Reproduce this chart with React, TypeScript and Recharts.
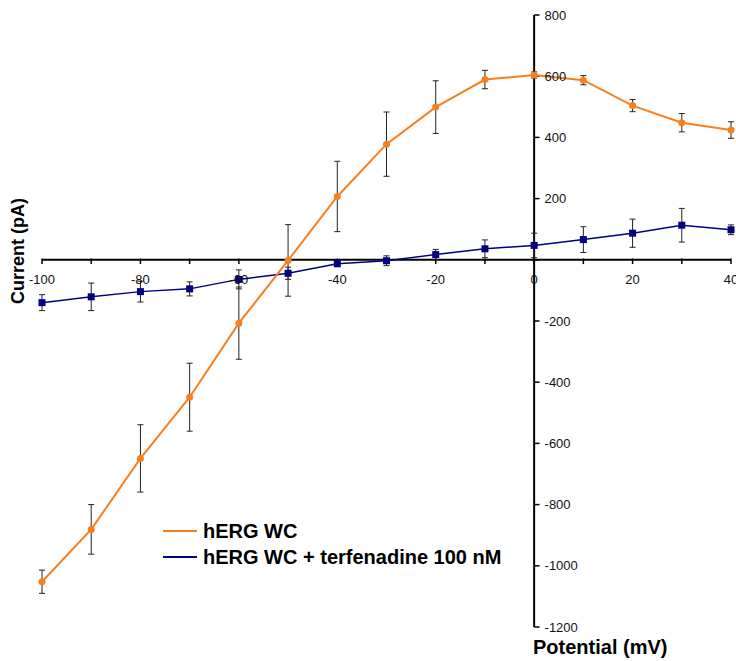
import React from 'react';
import {
  ComposedChart,
  Line,
  XAxis,
  YAxis,
  ErrorBar,
  ReferenceLine,
  Legend,
} from 'recharts';

// membrane potential steps (mV)
const voltage = [-100, -90, -80, -70, -60, -50, -40, -30, -20, -10, 0, 10, 20, 30, 40];
// hERG whole-cell current (pA) and SEM
const wcCurrent = [-1052, -881, -649, -449, -207, -2, 207, 378, 499, 589, 604, 587, 504, 448, 424];
const wcError = [38, 81, 110, 111, 118, 117, 115, 105, 86, 30, 10, 15, 20, 30, 27];
// + terfenadine 100 nM
const terfCurrent = [-140, -121, -104, -95, -64, -44, -13, -3, 17, 36, 47, 66, 87, 113, 98];
const terfError = [26, 45, 34, 23, 31, 20, 6, 16, 17, 29, 40, 42, 46, 55, 16];

const xTicks = [-100, -90, -80, -70, -60, -50, -40, -30, -20, -10, 0, 10, 20, 30, 40];
const xTickLabels = [-100, -80, -60, -40, -20, 0, 20, 40];
const yTicks = [800, 600, 400, 200, 0, -200, -400, -600, -800, -1000, -1200];

const ORANGE = '#F77F1E';
const NAVY = '#000080';
const FONT = '"Liberation Sans", Arial, sans-serif';

const rows = voltage.map((v, i) => ({
  v,
  wc: wcCurrent[i],
  wcErr: wcError[i],
  terf: terfCurrent[i],
  terfErr: terfError[i],
}));

const SquareDot = (props: any) => {
  const { cx, cy, index } = props;
  if (cx == null || cy == null) return null;
  return <rect key={`sq-${index}`} x={cx - 3.5} y={cy - 3.5} width={7} height={7} fill={NAVY} />;
};

const LegendBox = () => (
  <div style={{ fontFamily: FONT, fontWeight: 'bold', fontSize: 20, color: '#000' }}>
    {[
      { name: 'hERG WC', color: ORANGE },
      { name: 'hERG WC + terfenadine 100 nM', color: NAVY },
    ].map((it) => (
      <div key={it.name} style={{ display: 'flex', alignItems: 'center', height: 26, whiteSpace: 'nowrap' }}>
        <span style={{ display: 'inline-block', width: 34, height: 2, background: it.color, marginRight: 6 }} />
        <span>{it.name}</span>
      </div>
    ))}
  </div>
);

export default function App() {
  return (
    <div style={{ position: 'absolute', left: 0, top: 0, width: 736, height: 661, background: '#fff', fontFamily: FONT }}>
      <ComposedChart
        width={736}
        height={661}
        data={rows}
        margin={{ top: 15, right: 5, bottom: 34, left: 42 }}
      >
        <XAxis type="number" dataKey="v" domain={[-100, 40]} hide />
        <YAxis type="number" domain={[-1200, 800]} hide />

        <ReferenceLine y={0} stroke="#000" strokeWidth={2} />
        <ReferenceLine x={0} stroke="#000" strokeWidth={2} />
        {xTicks.map((t) => (
          <ReferenceLine
            key={`xt${t}`}
            segment={[{ x: t, y: 4 }, { x: t, y: -14 }]}
            stroke="#000"
            strokeWidth={1.5}
            label={
              xTickLabels.includes(t)
                ? { value: String(t), position: 'bottom', offset: 11, fill: '#111', fontSize: 13, fontFamily: FONT }
                : undefined
            }
          />
        ))}
        {yTicks.map((t) => (
          <ReferenceLine
            key={`yt${t}`}
            segment={[{ x: 0, y: t }, { x: 1.1, y: t }]}
            stroke="#000"
            strokeWidth={1.5}
            label={
              t !== 0
                ? { value: String(t), position: 'right', offset: 5, fill: '#111', fontSize: 13, fontFamily: FONT }
                : undefined
            }
          />
        ))}

        <Line
          type="linear"
          dataKey="terf"
          stroke={NAVY}
          strokeWidth={1.5}
          dot={SquareDot}
          activeDot={false}
          isAnimationActive={false}
        >
          <ErrorBar dataKey="terfErr" width={3} stroke="#222" strokeWidth={1} direction="y" isAnimationActive={false} />
        </Line>
        <Line
          type="linear"
          dataKey="wc"
          stroke={ORANGE}
          strokeWidth={2}
          dot={{ r: 3.5, fill: ORANGE, stroke: ORANGE, strokeWidth: 0 }}
          activeDot={false}
          isAnimationActive={false}
        >
          <ErrorBar dataKey="wcErr" width={3} stroke="#222" strokeWidth={1} direction="y" isAnimationActive={false} />
        </Line>

        <Legend
          layout="vertical"
          align="center"
          verticalAlign="middle"
          content={LegendBox}
          wrapperStyle={{ left: 163, top: 518, width: 360 }}
        />
      </ComposedChart>

      <div
        style={{
          position: 'absolute',
          left: 18,
          top: 251,
          transform: 'translate(-50%, -50%) rotate(-90deg)',
          fontSize: 18,
          fontWeight: 'bold',
          whiteSpace: 'nowrap',
        }}
      >
        Current (pA)
      </div>
      <div
        style={{
          position: 'absolute',
          left: 533,
          top: 636,
          fontSize: 20,
          fontWeight: 'bold',
          whiteSpace: 'nowrap',
        }}
      >
        Potential (mV)
      </div>
    </div>
  );
}
